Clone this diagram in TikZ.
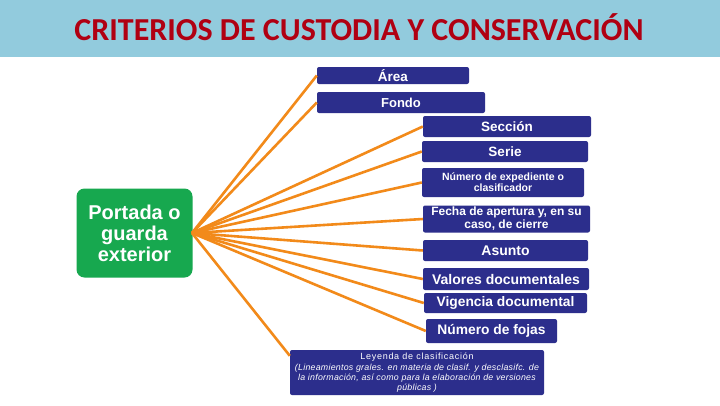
\documentclass[tikz,border=0pt]{standalone}
\usepackage{fontspec}
\setmainfont{Liberation Sans}
\newfontfamily\titlefont{Carlito}
\definecolor{barblue}{HTML}{92CBDD}
\definecolor{titlered}{HTML}{B00012}
\definecolor{navy}{HTML}{2C2E8C}
\definecolor{grn}{HTML}{17A84F}
\definecolor{org}{HTML}{F28A1A}
\tikzset{
  box/.style={fill=navy, rounded corners=2pt, text=white, font=\bfseries, inner sep=0pt, align=center},
  link/.style={draw=org, line width=2.6pt},
}
\begin{document}
\begin{tikzpicture}[x=1pt,y=-1pt]
\useasboundingbox (0,0) rectangle (720,405);
\fill[white] (0,0) rectangle (720,405);
\fill[barblue] (0,0) rectangle (720,57);
\node[text=titlered, font=\titlefont\bfseries\fontsize{32}{34}\selectfont] (title) at (359,27.5) {CRITERIOS DE CUSTODIA Y CONSERVACIÓN};

\node[fill=grn, rounded corners=8pt, minimum width=116pt, minimum height=89pt, text=white, font=\bfseries\fontsize{20}{21}\selectfont, align=center, inner sep=0pt] (portada) at (134.5,233) {Portada o\\guarda\\exterior};
\coordinate (hub) at (192,233);

\node[box, minimum width=152pt, minimum height=17pt, font=\bfseries\fontsize{13.5}{14}\selectfont] (area) at (393,75.5) {Área};
\node[box, minimum width=168pt, minimum height=21pt, font=\bfseries\fontsize{13}{14}\selectfont] (fondo) at (401,102.5) {Fondo};
\node[box, minimum width=168pt, minimum height=21pt, font=\bfseries\fontsize{13.5}{14}\selectfont] (seccion) at (507,126.5) {Sección};
\node[box, minimum width=166pt, minimum height=21pt, font=\bfseries\fontsize{13.5}{14}\selectfont] (serie) at (505,151.5) {Serie};
\node[box, minimum width=162pt, minimum height=29pt, font=\bfseries\fontsize{10.5}{11}\selectfont] (numexp) at (503,182.5) {Número de expediente o\\clasificador};
\node[box, minimum width=167pt, minimum height=27pt, font=\bfseries\fontsize{12}{13}\selectfont] (fecha) at (506.5,219) {Fecha de apertura y, en su\\caso, de cierre};
\node[box, minimum width=165pt, minimum height=21pt, font=\bfseries\fontsize{14}{15}\selectfont] (asunto) at (505.5,250.5) {Asunto};
\node[box, minimum width=166pt, minimum height=22pt, font=\bfseries\fontsize{14}{15}\selectfont] (valores) at (506,279) {Valores documentales};
\node[box, minimum width=163pt, minimum height=20pt, font=\bfseries\fontsize{13.8}{15}\selectfont] (vigencia) at (505.5,303) {Vigencia documental};
\node[box, minimum width=131pt, minimum height=24pt, font=\bfseries\fontsize{13.8}{15}\selectfont] (fojas) at (491.5,331) {Número de fojas};
\node[box, minimum width=254pt, minimum height=45pt, font=\mdseries\fontsize{9}{10}\selectfont] (leyenda) at (417,372.5) {{\addfontfeatures{LetterSpace=8}Leyenda de clasificación}\\[1pt]{\itshape\fontsize{8.8}{10}\selectfont\addfontfeatures{LetterSpace=3}(Lineamientos grales. en materia de clasif. y desclasifc. de}\\{\itshape\fontsize{8.8}{10}\selectfont\addfontfeatures{LetterSpace=3}la información, así como para la elaboración de versiones}\\{\itshape\fontsize{8.8}{10}\selectfont\addfontfeatures{LetterSpace=3}públicas )}};

\foreach \n in {area,fondo,seccion,serie,numexp,fecha,asunto,valores,vigencia,fojas}
  \draw[link] (hub) -- (\n.west);
\draw[link] (hub) -- ([yshift=-6pt]leyenda.north west);
\end{tikzpicture}
\end{document}
